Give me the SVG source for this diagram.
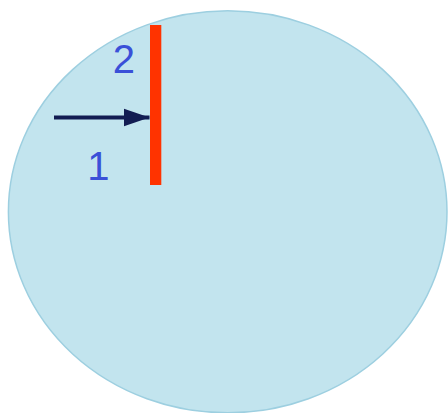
<svg xmlns="http://www.w3.org/2000/svg" width="448" height="413" viewBox="0 0 448 413">
<style>
.lbl{font-family:"Liberation Sans",Arial,sans-serif;font-size:40px;fill:#3a50d8}
</style>
<defs>
<marker id="ah" markerUnits="userSpaceOnUse" markerWidth="26" markerHeight="20" refX="26" refY="10" orient="auto">
<path d="M0,1 L26,10 L0,19 Z" fill="#121c52"/>
</marker>
</defs>
<g id="disc"><ellipse cx="227.7" cy="211.8" rx="219.3" ry="201" fill="#c2e4ee" stroke="#9dcfe0" stroke-width="1.5"/></g>
<g id="bar"><rect x="150" y="25" width="11.3" height="160" fill="#ff3300"/></g>
<g id="connectors"><line x1="54" y1="117.5" x2="149.5" y2="117.5" stroke="#121c52" stroke-width="4" marker-end="url(#ah)"/></g>
<g id="label2"><text class="lbl" x="112.8" y="73.3">2</text></g>
<g id="label1"><text class="lbl" x="87.3" y="180">1</text></g>
</svg>
